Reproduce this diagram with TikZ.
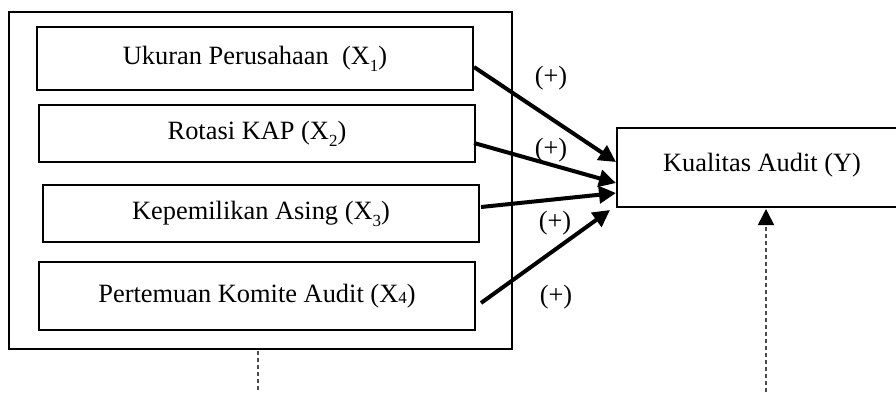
\documentclass[tikz,border=0pt]{standalone}
\usepackage{fontspec}
\setmainfont{Liberation Serif}
\usetikzlibrary{arrows.meta,calc}
\tikzset{
  varbox/.style={draw=black,line width=2pt,inner sep=0pt,minimum width=436pt,align=center},
  outerbox/.style={draw=black,line width=2.2pt,inner sep=0pt,minimum width=503pt,minimum height=337pt},
  ybox/.style={draw=black,line width=2pt,inner sep=0pt,minimum width=300pt,minimum height=79pt},
  effect/.style={line width=4pt,-{Triangle[length=17pt,width=17pt]}},
  plus/.style={inner sep=0pt},
  dashline/.style={draw=black!70,line width=1.6pt,dash pattern=on 4pt off 3pt},
}
\newcommand{\sub}[1]{\raisebox{-7pt}{\fontsize{17}{17}\selectfont #1}}
\begin{document}
\begin{tikzpicture}[x=1pt,y=-1pt,font=\fontsize{26.4}{30}\selectfont]
\useasboundingbox (0,0) rectangle (896,392);
\clip (0,0) rectangle (896,392);
\fill[white] (0,0) rectangle (896,392);
% outer grouping box
\node[outerbox] (outer) at (260.5,180.5) {};
% independent variables
\node[varbox,minimum height=63pt] (b1) at (255,58.5) {\raisebox{3pt}{Ukuran Perusahaan\ \ (X\sub{1})}};
\node[varbox,minimum height=57pt] (b2) at (257,133.5) {Rotasi KAP (X\sub{2})};
\node[varbox,minimum height=57pt] (b3) at (261,213.5) {Kepemilikan Asing (X\sub{3})};
\node[varbox,minimum height=68pt] (b4) at (257,296) {\raisebox{6pt}{Pertemuan Komite Audit (X{\fontsize{17}{17}\selectfont\raisebox{-1.5pt}{4}})}};
% dependent variable
\node[ybox] (y) at (767,167.5) {\hspace*{-10pt}\raisebox{10pt}{Kualitas Audit (Y)}};
% arrows
\draw[effect] ($(b1.east)+(0,8.5)$) -- ($(y.west)+(0,-5.5)$);
\draw[effect] ($(b2.east)+(-2,9.5)$) -- ($(y.west)+(0,15.5)$);
\draw[effect] ($(b3.east)+(1,-6.5)$) -- ($(y.west)+(0,25.5)$);
\draw[effect] ($(b4.east)+(5,7)$) -- ($(y.south west)+(-6,2)$);
% signs
\node[plus] (p1) at (551,78) {(+)};
\node[plus] (p2) at (551,150) {(+)};
\node[plus] (p3) at (555,223) {(+)};
\node[plus] (p4) at (556,297) {(+)};
% dashed lines
\coordinate (lb) at (258,392);
\coordinate (rb) at (766,392);
\draw[dashline] ($(outer.south)+(-2.5,1)$) -- (lb);
\draw[dashline,-{Triangle[length=16pt,width=16pt,color=black]}] (rb) -- ($(y.south)+(-1,1)$);
\end{tikzpicture}
\end{document}
